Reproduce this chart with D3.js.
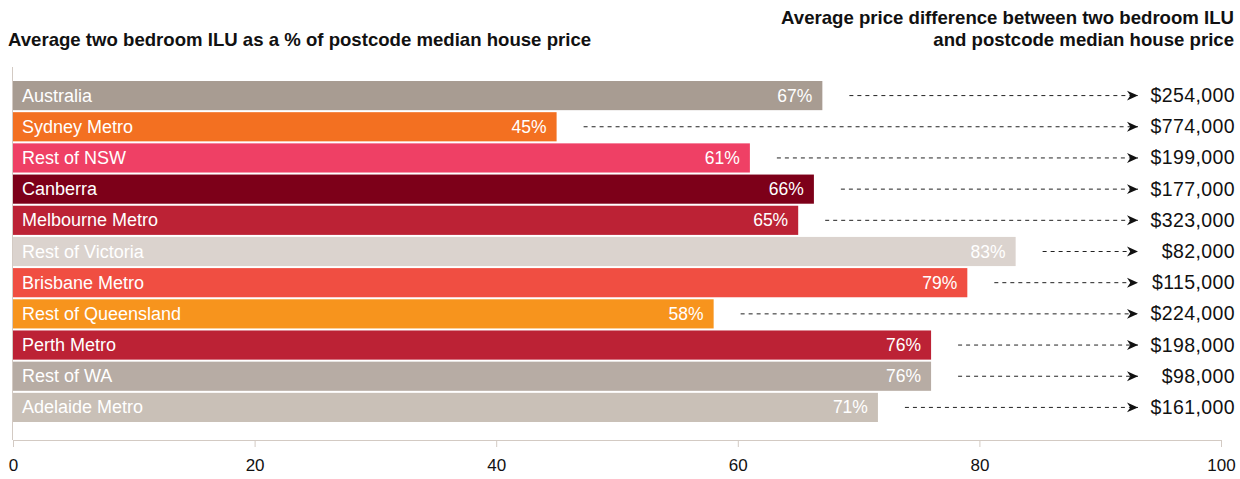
<!DOCTYPE html>
<html>
<head>
<meta charset="utf-8">
<script src="https://cdn.jsdelivr.net/npm/d3@7"></script>
<style>
  html, body { margin: 0; padding: 0; background: #fff; }
  svg { display: block; font-family: "Liberation Sans", Arial, Helvetica, sans-serif; }
</style>
</head>
<body>
<svg id="chart" width="1240" height="479"></svg>
<script>
const categories = ["Australia", "Sydney Metro", "Rest of NSW", "Canberra", "Melbourne Metro",
  "Rest of Victoria", "Brisbane Metro", "Rest of Queensland", "Perth Metro", "Rest of WA", "Adelaide Metro"];
const percentValues = [67, 45, 61, 66.3, 65, 83, 79, 58, 76, 76, 71.6];
const percentLabels = ["67%", "45%", "61%", "66%", "65%", "83%", "79%", "58%", "76%", "76%", "71%"];
const priceDifferences = [254000, 774000, 199000, 177000, 323000, 82000, 115000, 224000, 198000, 98000, 161000];
const barColors = ["#a89c92", "#f37021", "#ef4065", "#7d0019", "#bc2235", "#dbd3ce",
  "#f04e42", "#f7941d", "#bc2235", "#b7aca4", "#c9c0b7"];
const xTicks = [0, 20, 40, 60, 80, 100];
const leftTitle = "Average two bedroom ILU as a % of postcode median house price";
const rightTitle = ["Average price difference between two bedroom ILU", "and postcode median house price"];

const svg = d3.select("#chart");
const x = d3.scaleLinear().domain([0, 100]).range([13, 1221]);
const y = d3.scaleBand().domain(categories).range([81, 422]).paddingInner(0.065).paddingOuter(0);

// titles
svg.append("text").attr("x", 8).attr("y", 46)
  .attr("font-size", 18.6).attr("font-weight", "bold").attr("fill", "#111").text(leftTitle);
rightTitle.forEach((t, i) => {
  svg.append("text").attr("x", 1234).attr("y", 24 + i * 22).attr("text-anchor", "end")
    .attr("font-size", 18.6).attr("font-weight", "bold").attr("fill", "#111").text(t);
});

// left vertical line
svg.append("line").attr("x1", 12.5).attr("x2", 12.5).attr("y1", 67).attr("y2", 440)
  .attr("stroke", "#d3cac3").attr("stroke-width", 1);

// bottom axis
const axis = svg.append("g").attr("transform", "translate(0,440)")
  .call(d3.axisBottom(x).tickValues(xTicks).tickSize(7).tickPadding(12).tickFormat(d3.format("d")));
axis.select(".domain").attr("stroke", "#d3cac3");
axis.selectAll(".tick line").attr("stroke", "#d3cac3");
axis.selectAll(".tick text").attr("font-size", 17).attr("fill", "#111")
  .attr("font-family", "'Liberation Sans', Arial, sans-serif");

// arrow marker
const defs = svg.append("defs");
defs.append("marker").attr("id", "arrow").attr("viewBox", "0 0 10 10")
  .attr("refX", 10).attr("refY", 5).attr("markerWidth", 11).attr("markerHeight", 11)
  .attr("markerUnits", "userSpaceOnUse").attr("orient", "auto")
  .append("path").attr("d", "M0,0.5 L10,5 L0,9.5 L3,5 Z").attr("fill", "#111");

const rows = svg.append("g").selectAll("g").data(categories).join("g");

rows.append("rect")
  .attr("x", x(0)).attr("y", d => y(d))
  .attr("width", (d, i) => x(percentValues[i]) - x(0))
  .attr("height", y.bandwidth())
  .attr("fill", (d, i) => barColors[i]);

rows.append("text")
  .attr("x", x(0) + 9).attr("y", d => y(d) + y.bandwidth() / 2 + 6)
  .attr("font-size", 18).attr("fill", "#fff").text(d => d);

rows.append("text")
  .attr("x", (d, i) => x(percentValues[i]) - 10)
  .attr("y", d => y(d) + y.bandwidth() / 2 + 6)
  .attr("text-anchor", "end").attr("font-size", 17.5).attr("fill", "#fff")
  .text((d, i) => percentLabels[i]);

rows.append("line")
  .attr("x1", (d, i) => x(percentValues[i]) + 27)
  .attr("x2", 1138)
  .attr("y1", d => y(d) + y.bandwidth() / 2)
  .attr("y2", d => y(d) + y.bandwidth() / 2)
  .attr("stroke", "#222").attr("stroke-width", 1).attr("stroke-dasharray", "4,4")
  .attr("marker-end", "url(#arrow)");

rows.append("text")
  .attr("x", 1235).attr("y", d => y(d) + y.bandwidth() / 2 + 6.5)
  .attr("text-anchor", "end").attr("font-size", 19.5).attr("letter-spacing", 0.4).attr("fill", "#111")
  .text((d, i) => "$" + d3.format(",")(priceDifferences[i]));
</script>
</body>
</html>
